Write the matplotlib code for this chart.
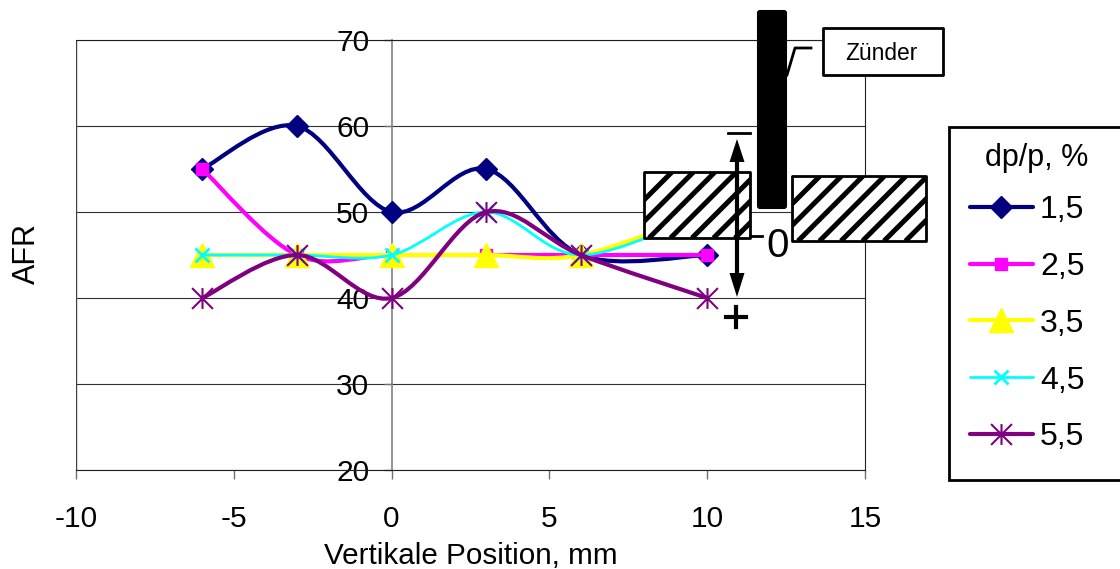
import matplotlib
matplotlib.use('Agg')
import matplotlib.pyplot as plt
from matplotlib.lines import Line2D
from matplotlib.patches import FancyBboxPatch, PathPatch, Rectangle
from matplotlib.path import Path

plt.rcParams['font.family'] = ['Liberation Sans', 'DejaVu Sans']

# data
position = [-6, -3, 0, 3, 6, 10]
afr_15 = [55, 60, 50, 55, 45, 45]
afr_25 = [55, 45, 45, 45, 45, 45]
afr_35 = [45, 45, 45, 45, 45, 50]
afr_45 = [45, 45, 45, 50, 45, 50]
afr_55 = [40, 45, 40, 50, 45, 40]
series_labels = ['1,5', '2,5', '3,5', '4,5', '5,5']
x_ticks = [-10, -5, 0, 5, 10, 15]
y_ticks = [20, 30, 40, 50, 60, 70]

W, H = 1120, 569
M, L = Path.MOVETO, Path.LINETO
asterisk = Path([(0, -1), (0, 1), (-1, -1), (1, 1), (-1, 1), (1, -1)], [M, L, M, L, M, L])

all_series = [afr_15, afr_25, afr_35, afr_45, afr_55]
colors = ['#000080', '#FF00FF', '#FFFF00', '#00FFFF', '#800080']
markers = ['D', 's', '^', 'x', asterisk]
marker_sizes = [11, 9, 17, 10, 15]
line_widths = [3, 3, 3, 2, 3]
edge_widths = [1, 1, 1, 2, 1.5]


def smooth_path(xs, ys):
    # excel style smoothed line: one bezier between each pair of points
    pts = list(zip(xs, ys))
    verts = [pts[0]]
    codes = [Path.MOVETO]
    for i in range(len(pts) - 1):
        p0 = pts[max(i - 1, 0)]
        p1 = pts[i]
        p2 = pts[i + 1]
        p3 = pts[min(i + 2, len(pts) - 1)]
        verts.append((p1[0] + (p2[0] - p0[0]) / 6, p1[1] + (p2[1] - p0[1]) / 6))
        verts.append((p2[0] - (p3[0] - p1[0]) / 6, p2[1] - (p3[1] - p1[1]) / 6))
        verts.append(p2)
        codes += [Path.CURVE4] * 3
    return Path(verts, codes)


def hatched_box(axis, x, y, w, h, start):
    box = Rectangle((x, y), w, h, facecolor='white', edgecolor='none')
    axis.add_patch(box)
    c = start
    while c < x + y + w + h:
        line, = axis.plot([c - y, c - y - h], [y, y + h], color='black', lw=3.6, solid_capstyle='butt')
        line.set_clip_path(box)
        c += 21.5
    axis.add_patch(Rectangle((x, y), w, h, fill=False, edgecolor='black', lw=2, joinstyle='round'))


fig = plt.figure(figsize=(W / 100, H / 100), dpi=100, facecolor='white')
ax = fig.add_axes([76 / W, 1 - 470 / H, (865 - 76) / W, (470 - 40) / H])
ax.set_xlim(-10, 15)
ax.set_ylim(20, 70)
ax.set_axisbelow(True)

ax.spines['left'].set_position(('data', 0))
ax.spines['left'].set_color('#808080')
ax.spines['left'].set_linewidth(1.2)
for name in ['top', 'right', 'bottom']:
    ax.spines[name].set_linewidth(0.8)
    ax.spines[name].set_color('#202020')
ax.axvline(-10, color='#404040', lw=1, zorder=1)
ax.yaxis.grid(True, color='#303030', lw=0.8)

ax.set_xticks(x_ticks)
ax.set_yticks(y_ticks)
ax.set_xticklabels([str(v) for v in x_ticks], fontsize=21.5)
ax.set_yticklabels([str(v) for v in y_ticks], fontsize=21.5)
ax.tick_params(axis='x', length=6.5, width=1, color='#707070', pad=18.5)
ax.tick_params(axis='y', length=6, width=1, color='#707070', pad=10)

handles = []
for i, values in enumerate(all_series):
    ax.add_patch(PathPatch(smooth_path(position, values), fill=False, edgecolor=colors[i],
                           lw=line_widths[i], capstyle='round', zorder=3 + i * 0.1))
    ax.plot(position, values, ls='none', marker=markers[i], ms=marker_sizes[i], color=colors[i],
            mew=edge_widths[i], zorder=3 + i * 0.1, clip_on=False)
    handles.append(Line2D([], [], color=colors[i], lw=line_widths[i], marker=markers[i],
                          ms=marker_sizes[i], mew=edge_widths[i], solid_capstyle='round'))

# overlay in pixel coordinates for the drawn parts and the labels
ov = fig.add_axes([0, 0, 1, 1], zorder=5)
ov.set_xlim(0, W)
ov.set_ylim(H, 0)
ov.axis('off')
ov.patch.set_alpha(0)

ov.text(471, 556, 'Vertikale Position, mm', fontsize=21.3, ha='center', va='center')
ov.text(27, 253, 'AFR', fontsize=22, rotation=90, ha='center', va='center')

# hatched blocks
hatched_box(ov, 644, 172, 106, 66, 844)
hatched_box(ov, 792, 176, 134, 65, 996)

# igniter and its callout
ov.add_patch(FancyBboxPatch((758, 11), 28, 197, boxstyle='round,pad=0,rounding_size=2',
                            facecolor='black', edgecolor='black', lw=1.5))
ov.plot([787, 795, 811], [75, 48, 48], color='black', lw=2)
ov.add_patch(Rectangle((823, 28), 120, 47, facecolor='white', edgecolor='black', lw=2, joinstyle='round'))
ov.text(881.5, 53, 'Zünder', fontsize=16.4, ha='center', va='center')

# position scale
ov.plot([737, 737], [155, 282], color='black', lw=3, solid_capstyle='butt')
ov.fill([737, 729.5, 744.5], [139, 162, 162], color='black', lw=0)
ov.fill([737, 729.5, 744.5], [297, 273, 273], color='black', lw=0)
ov.plot([728, 750], [133, 133], color='black', lw=2)
ov.plot([750, 762], [236, 236], color='black', lw=2)
ov.text(778, 246, '0', fontsize=29, ha='center', va='center')
ov.plot([726, 746], [317, 317], color='black', lw=3)
ov.plot([736, 736], [307, 327], color='black', lw=3)

# legend
ov.add_patch(Rectangle((949, 127), 180, 353, facecolor='white', edgecolor='black', lw=2))
ov.text(1037, 158, 'dp/p, %', fontsize=22, ha='center', va='center')
legend = ov.legend(handles, series_labels, loc='upper left', bbox_to_anchor=(970, 195),
                   bbox_transform=ov.transData, frameon=False, fontsize=23,
                   handlelength=1.97, handletextpad=0.22, labelspacing=0.84,
                   borderpad=0, borderaxespad=0)
legend.set_zorder(6)

fig.savefig('out.png', dpi=100, facecolor='white')
